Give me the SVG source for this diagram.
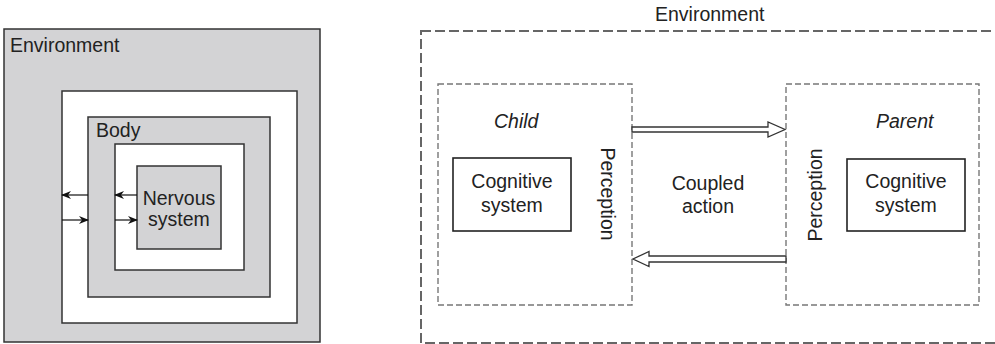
<svg xmlns="http://www.w3.org/2000/svg" width="995" height="344" viewBox="0 0 995 344">
<style>
  text { font-family: "Liberation Sans", Arial, sans-serif; font-size: 19.5px; fill: #222; }
  .mid { text-anchor: middle; }
  .it { font-style: italic; }
  .grey { fill: #d3d3d5; stroke: #333; stroke-width: 1.5; }
  .white { fill: #fff; stroke: #333; stroke-width: 1.5; }
  .box { fill: #fff; stroke: #222; stroke-width: 1.6; }
  .outer { fill: none; stroke: #666; stroke-width: 2; stroke-dasharray: 10 4; }
  .inner { fill: none; stroke: #777; stroke-width: 1.4; stroke-dasharray: 6 3; }
  .thin { stroke: #111; stroke-width: 1.2; fill: none; marker-end: url(#ah); }
  .dbl { fill: #fff; stroke: #333; stroke-width: 1.3; }
</style>
<defs>
  <marker id="ah" viewBox="0 0 10 8" refX="9" refY="4" markerWidth="10" markerHeight="8" markerUnits="userSpaceOnUse" orient="auto">
    <path d="M0,0 L10,4 L0,8 L3,4 z" fill="#111"/>
  </marker>
</defs>

<!-- Left figure -->
<g id="environment-left">
  <rect class="grey" x="4" y="29" width="316" height="313"/>
  <text x="10" y="52">Environment</text>
</g>
<g id="env-gap-outer">
  <rect class="white" x="62" y="91" width="235" height="232"/>
</g>
<g id="body">
  <rect class="grey" x="88" y="117" width="182" height="180"/>
  <text x="96" y="137">Body</text>
</g>
<g id="body-gap-inner">
  <rect class="white" x="115" y="144" width="129" height="126"/>
</g>
<g id="nervous-system">
  <rect class="grey" x="137" y="166" width="84" height="83"/>
  <text class="mid" x="179" y="205">Nervous</text>
  <text class="mid" x="179" y="226">system</text>
</g>

<!-- Right figure -->
<g id="environment-right">
  <rect class="outer" x="421" y="31" width="600" height="312"/>
  <text x="655" y="21">Environment</text>
</g>
<g id="child">
  <rect class="inner" x="438" y="84" width="194" height="221"/>
  <text class="it" x="494" y="128">Child</text>
  <rect class="box" x="453" y="158" width="118" height="73"/>
  <text class="mid" x="512" y="188">Cognitive</text>
  <text class="mid" x="512" y="212">system</text>
  <text class="mid" transform="translate(601,194) rotate(90)">Perception</text>
</g>
<g id="parent">
  <rect class="inner" x="786" y="84" width="193" height="221"/>
  <text class="it" x="876" y="128">Parent</text>
  <rect class="box" x="847" y="159" width="118" height="72"/>
  <text class="mid" x="906" y="188">Cognitive</text>
  <text class="mid" x="906" y="212">system</text>
  <text class="mid" transform="translate(822,195) rotate(-90)">Perception</text>
</g>
<g id="coupled-action">
  <text class="mid" x="708" y="190">Coupled</text>
  <text class="mid" x="708" y="213">action</text>
</g>

<g id="connectors">
  <line class="thin" x1="88" y1="195" x2="62" y2="195"/>
  <line class="thin" x1="137" y1="195" x2="115" y2="195"/>
  <line class="thin" x1="62" y1="220" x2="88" y2="220"/>
  <line class="thin" x1="115" y1="220" x2="137" y2="220"/>
  <polygon class="dbl" points="632,127 768,127 768,122 785,129.5 768,137 768,132 632,132"/>
  <polygon class="dbl" points="786,256 649,256 649,251.5 633,259 649,266.5 649,262 786,262"/>
</g>
</svg>
